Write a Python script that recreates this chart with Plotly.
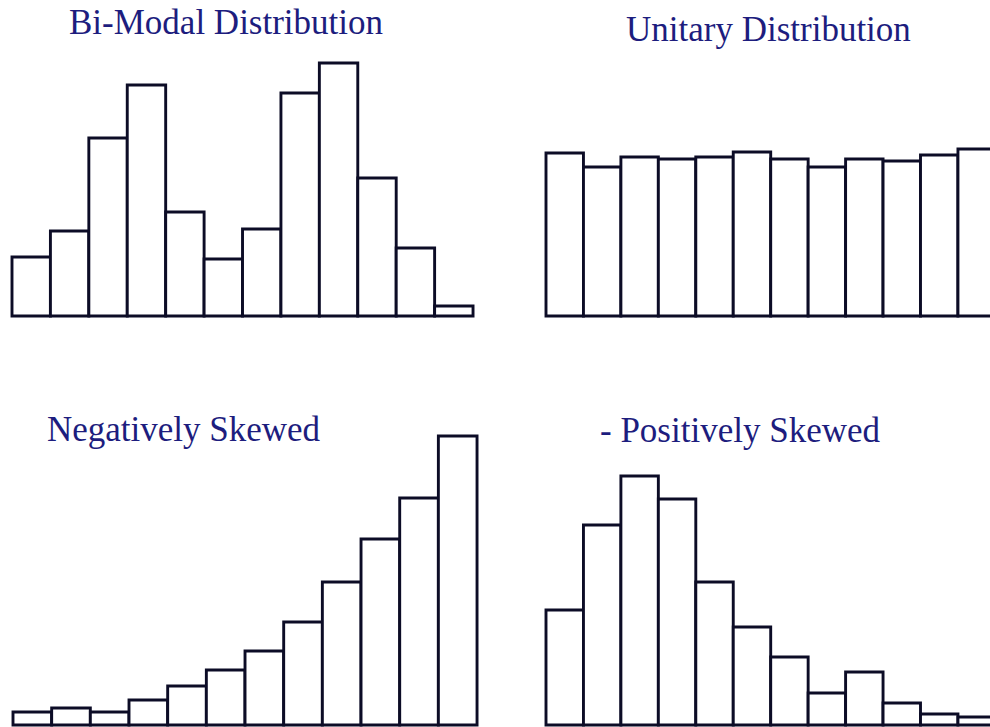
import plotly.graph_objects as go

W, H = 990, 727

titles = ["Bi-Modal Distribution", "Unitary Distribution",
          "Negatively Skewed", "- Positively Skewed"]
bins = list(range(12))
bimodal = [59, 85, 178, 231, 104, 57, 87, 223, 253, 138, 68, 10]
unitary = [163, 149, 159, 157, 159, 164, 157, 149, 157, 155, 161, 167]
negative = [13, 17, 13, 25, 39, 55, 74, 103, 143, 186, 227, 289]
positive = [115, 200, 249, 226, 143, 98, 68, 32, 53, 22, 11, 8]

# panel geometry in page pixels
panels = [
    dict(data=bimodal, x0=12, unit=38.42, base=316, top=40, right=476, tx=226, ty=22.5),
    dict(data=unitary, x0=546, unit=37.45, base=316, top=40, right=990, tx=768, ty=29),
    dict(data=negative, x0=13, unit=38.67, base=725, top=420, right=480, tx=184, ty=429),
    dict(data=positive, x0=546, unit=37.45, base=725, top=420, right=990, tx=740, ty=430),
]

line_color = "#0c0c26"
title_color = "#1d1d7e"


def px(xp):
    return xp / W


def py(yp):
    return (H - yp) / H


fig = go.Figure()
layout = dict(width=W, height=H, margin=dict(l=0, r=0, t=0, b=0),
              paper_bgcolor="white", plot_bgcolor="white", showlegend=False,
              bargap=0, annotations=[])

for i, p in enumerate(panels, start=1):
    xa = "x" if i == 1 else f"x{i}"
    ya = "y" if i == 1 else f"y{i}"
    fig.add_trace(go.Bar(
        x=bins, y=p["data"], width=1, xaxis=xa, yaxis=ya,
        marker=dict(color="white", line=dict(color=line_color, width=2.9)),
        hoverinfo="skip"))
    left_px = p["x0"] - 3
    right_px = p["right"]
    xr0 = -0.5 - 3 / p["unit"]
    xr1 = -0.5 + (right_px - p["x0"]) / p["unit"]
    bottom_px = min(p["base"] + 3, H)
    yr0 = -(bottom_px - p["base"])
    yr1 = p["base"] - p["top"]
    ax_common = dict(visible=False, showgrid=False, zeroline=False, fixedrange=True)
    layout["xaxis" if i == 1 else f"xaxis{i}"] = dict(
        domain=[max(px(left_px), 0), min(px(right_px), 1)], range=[xr0, xr1],
        anchor=ya, **ax_common)
    layout["yaxis" if i == 1 else f"yaxis{i}"] = dict(
        domain=[max(py(bottom_px), 0), py(p["top"])], range=[yr0, yr1],
        anchor=xa, **ax_common)
    layout["annotations"].append(dict(
        text=titles[i - 1], x=px(p["tx"]), y=py(p["ty"]),
        xref="paper", yref="paper", xanchor="center", yanchor="middle",
        showarrow=False,
        font=dict(family="Liberation Serif, Times New Roman, serif", size=35,
                  color=title_color)))

fig.update_layout(**layout)
fig.write_html(
    "out.html",
    config={"displayModeBar": False, "staticPlot": True},
    post_script="document.body.style.margin='0';document.body.style.overflow='hidden';",
)
